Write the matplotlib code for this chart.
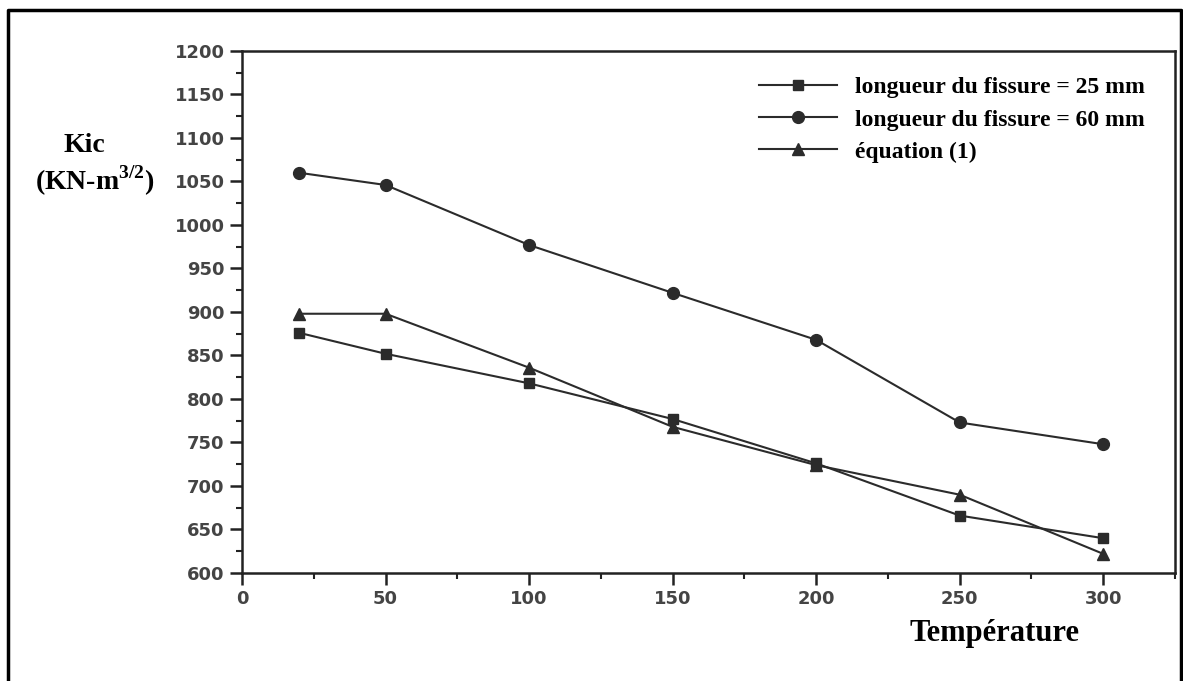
import numpy as np
import matplotlib
matplotlib.use("Agg")
import matplotlib.pyplot as plt
from matplotlib.lines import Line2D
from matplotlib.ticker import MultipleLocator

# data
temperature = [20, 50, 100, 150, 200, 250, 300]
kic_25mm = [876, 852, 818, 777, 726, 666, 640]
kic_60mm = [1060, 1046, 977, 922, 868, 773, 748]
kic_eq1 = [898, 898, 836, 768, 724, 690, 622]

labels = ["longueur du fissure = 25 mm",
          "longueur du fissure = 60 mm",
          "équation (1)"]

W, H = 1183, 681
fig = plt.figure(figsize=(W / 100, H / 100), dpi=100)

# outer frame (left, top, right only)
fig.add_artist(Line2D([8 / W, 8 / W, 1181 / W, 1181 / W],
                      [0, 1 - 10 / H, 1 - 10 / H, 0],
                      transform=fig.transFigure, color="black", lw=2.5))

ax = fig.add_axes([242 / W, 1 - 573 / H, (1175 - 242) / W, (573 - 51) / H])

line_col = "#2b2b2b"
ax.plot(temperature, kic_25mm, color=line_col, lw=1.5, marker="s", ms=7.5,
        label=labels[0])
ax.plot(temperature, kic_60mm, color=line_col, lw=1.5, marker="o", ms=8.5,
        label=labels[1])
ax.plot(temperature, kic_eq1, color=line_col, lw=1.5, marker="^", ms=9,
        label=labels[2])

ax.set_xlim(0, 325)
ax.set_ylim(600, 1200)
ax.xaxis.set_major_locator(MultipleLocator(50))
ax.xaxis.set_minor_locator(MultipleLocator(25))
ax.yaxis.set_major_locator(MultipleLocator(50))
ax.yaxis.set_minor_locator(MultipleLocator(25))
ax.tick_params(which="major", direction="out", length=8.5, width=1.8,
               color="#222222", labelsize=13, labelcolor="#444444", pad=4)
ax.tick_params(which="minor", direction="out", length=4.5, width=1.5,
               color="#222222")
for lab in ax.get_xticklabels() + ax.get_yticklabels():
    lab.set_fontfamily("DejaVu Sans")
    lab.set_fontweight("bold")
for s in ax.spines.values():
    s.set_linewidth(1.8)
    s.set_color("#222222")

serif = {"family": "Liberation Serif", "weight": "bold"}
fig.text(84 / W, 1 - 145 / H, "Kic", fontdict=serif, fontsize=20,
         ha="center", va="center")
fig.text(95 / W, 1 - 181 / H, r"(KN-m$^{\mathregular{3/2}}$)", fontdict=serif,
         fontsize=20, ha="center", va="center")
fig.text(995 / W, 1 - 634 / H, "Température", fontdict=serif, fontsize=22,
         ha="center", va="center")

leg = ax.legend(loc="upper left", bbox_to_anchor=(740 / W, 1 - 58 / H),
                bbox_transform=fig.transFigure, frameon=False,
                prop={"family": "Liberation Serif", "weight": "bold",
                      "size": 17},
                handlelength=3.3, handletextpad=0.75, labelspacing=0.45,
                numpoints=1, borderpad=0.3)

fig.savefig("out.png", dpi=100, facecolor="white")
